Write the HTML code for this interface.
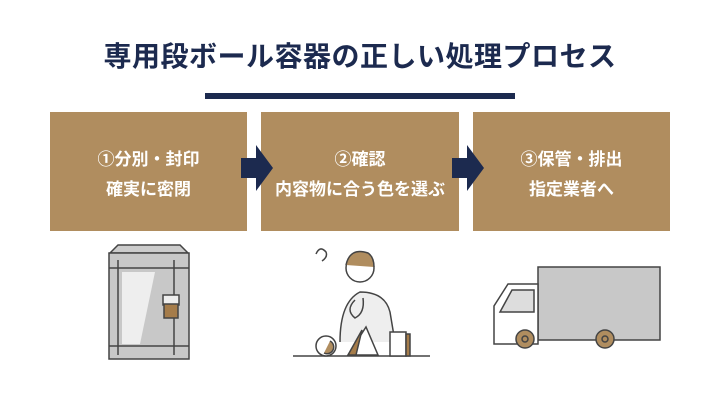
<!DOCTYPE html>
<html><head><meta charset="utf-8"><style>
body{margin:0;width:720px;height:405px;background:#fff;position:relative;overflow:hidden;font-family:"Liberation Sans","Noto Sans CJK JP",sans-serif}
.t{position:absolute;left:0;width:720px;top:39px;text-align:center;font-size:28px;font-weight:bold;color:#1c2a4f;letter-spacing:0.5px;line-height:36px}
.bar{position:absolute;left:205px;top:93px;width:310px;height:6px;background:#1c2a4f}
.b{position:absolute;top:112px;height:119px;background:#b08d5f;color:#fff;font-weight:bold;font-size:17px;text-align:center;box-sizing:border-box;padding-top:33px;line-height:30px;white-space:nowrap}
svg{position:absolute;left:0;top:0}
</style></head><body>
<div class="t">専用段ボール容器の正しい処理プロセス</div>
<div class="bar"></div>
<div class="b" style="left:50px;width:197px">①分別・封印<br>確実に密閉</div>
<div class="b" style="left:261px;width:198px">②確認<br>内容物に合う色を選ぶ</div>
<div class="b" style="left:473px;width:197px">③保管・排出<br>指定業者へ</div>
<svg width="720" height="405">
<g fill="#1c2a4f">
<polygon points="241,158 256,158 256,145 273,168 256,191 256,178 241,178"/>
<polygon points="452,158 467,158 467,145 484,168 467,191 467,178 452,178"/>
</g>
<g stroke="#444" stroke-width="1.5" fill="none">
<polygon points="110,253 118,245 180,245 188,253" fill="#ccc"/>
<rect x="109" y="253" width="80" height="106" fill="#c8c8c8"/>
<polygon points="122,272 155,272 140,344 122,344" fill="#eee" stroke="none"/>
<line x1="109" y1="268" x2="189" y2="268"/><line x1="109" y1="346" x2="189" y2="346"/>
<line x1="118" y1="260" x2="118" y2="355"/><line x1="174" y1="260" x2="174" y2="355"/>
<rect x="163" y="295" width="16" height="10" fill="#eee"/>
<rect x="164" y="304" width="14" height="14" fill="#a57c4a"/>
</g>
<g stroke="#444" stroke-width="1.5" fill="none">
<path d="M316 254 q4 -9 10 -2 q2 5 -4 9"/>
<circle cx="360" cy="268" r="14" fill="#fff"/>
<path d="M346 265 q4 -18 22 -12 q6 4 6 14" fill="#b08d5f"/>
<path d="M340 342 q0 -40 20 -50 q25 0 30 20 l5 30" fill="#eee"/>
<path d="M355 300 q-10 10 0 18 q10 -5 8 -20"/>
<line x1="293" y1="356" x2="430" y2="356"/>
<circle cx="326" cy="346" r="10" fill="#fff"/>
<path d="M330 341 a6 6 0 0 1 -6 12" fill="#b08d5f"/>
<polygon points="348,355 366,327 378,355" fill="#fff"/>
<polygon points="348,355 362,330 356,355" fill="#a57c4a"/>
<rect x="390" y="332" width="16" height="24" fill="#fff"/>
<rect x="406" y="334" width="4" height="22" fill="#a57c4a"/>
</g>
<g stroke="#444" stroke-width="1.5" fill="none">
<rect x="538" y="267" width="122" height="73" fill="#c8c8c8"/>
<path d="M538 284 h-30 l-14 22 v38 h44 z" fill="#fff"/>
<path d="M512 290 h22 v22 h-34 z" fill="#ddd"/>
<circle cx="525" cy="339" r="9" fill="#b08d5f"/><circle cx="525" cy="339" r="3"/>
<circle cx="605" cy="339" r="9" fill="#b08d5f"/><circle cx="605" cy="339" r="3"/>
</g>
</svg>
</body></html>
